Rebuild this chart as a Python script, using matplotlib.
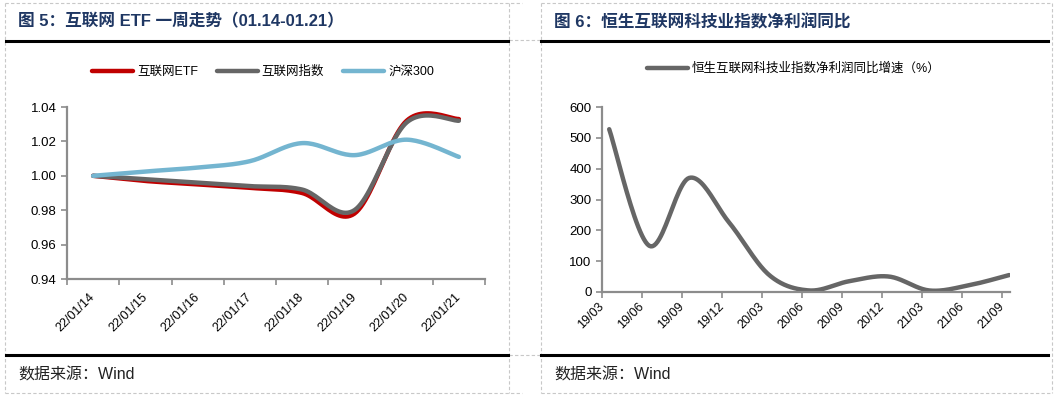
import numpy as np
import matplotlib.pyplot as plt
from matplotlib.lines import Line2D

plt.rcParams['font.family'] = ['Liberation Sans', 'Noto Sans CJK SC', 'DejaVu Sans']

# ---- data: left chart (图5) ----
dates = ['22/01/14', '22/01/15', '22/01/16', '22/01/17',
         '22/01/18', '22/01/19', '22/01/20', '22/01/21']
etf = [1.000, 0.997, 0.995, 0.993, 0.990, 0.978, 1.032, 1.033]
net_index = [1.000, 0.998, 0.996, 0.994, 0.992, 0.980, 1.031, 1.032]
hs300 = [1.000, 1.0025, 1.0048, 1.0085, 1.019, 1.012, 1.021, 1.011]

# ---- data: right chart (图6) ----
quarters = ['19/03', '19/06', '19/09', '19/12', '20/03', '20/06',
            '20/09', '20/12', '21/03', '21/06', '21/09']
profit_yoy = [528, 150, 370, 225, 55, 5, 35, 50, 5, 22, 55]

W, H = 1058, 397
RED = '#C00000'
GRAY = '#666666'
BLUE = '#74B5D0'
NAVY = '#1F3763'
AXC = '#8C8C8C'


def smooth(xs, ys, n=25):
    # excel-like smoothed line (catmull-rom through the points)
    p = np.column_stack([xs, ys]).astype(float)
    p = np.vstack([p[0], p, p[-1]])
    segs = []
    t = np.linspace(0, 1, n)[:, None]
    for i in range(1, len(p) - 2):
        p0, p1, p2, p3 = p[i - 1], p[i], p[i + 1], p[i + 2]
        c1 = p1 + (p2 - p0) / 6
        c2 = p2 - (p3 - p1) / 6
        seg = (1 - t) ** 3 * p1 + 3 * (1 - t) ** 2 * t * c1 + 3 * (1 - t) * t ** 2 * c2 + t ** 3 * p2
        segs.append(seg if i == 1 else seg[1:])
    a = np.vstack(segs)
    return a[:, 0], a[:, 1]


def fx(x):
    return x / W


def fy(y):
    return 1 - y / H


def hline(x1, x2, y, **kw):
    fig.add_artist(Line2D([fx(x1), fx(x2)], [fy(y), fy(y)], **kw))


def vline(x, y1, y2, **kw):
    fig.add_artist(Line2D([fx(x), fx(x)], [fy(y1), fy(y2)], **kw))


fig = plt.figure(figsize=(W / 100, H / 100), dpi=100)

# table frame (dashed) and black rules
dash = dict(color='#C8C8C8', lw=0.8, ls=(0, (3, 2)))
for x1, x2 in [(5, 522), (541, 1052)]:
    hline(x1, x2, 3, **dash)
    hline(x1, x2, 393, **dash)
for x in [5, 509, 541, 1052]:
    vline(x, 3, 393, **dash)
hline(509, 541, 40, **dash)
hline(509, 541, 355, **dash)
for x1, x2 in [(6, 508), (541, 1048)]:
    hline(x1, x2, 41, color='black', lw=2.2)
    hline(x1, x2, 355, color='black', lw=2.2)

# titles and sources
fig.text(fx(18), fy(21), '图 5：互联网 ETF 一周走势（01.14-01.21）', fontsize=12,
         fontweight='bold', color=NAVY, va='center',
         family=['Liberation Sans', 'Noto Sans CJK SC'])
fig.text(fx(554), fy(22), '图 6：恒生互联网科技业指数净利润同比', fontsize=12,
         fontweight='bold', color=NAVY, va='center',
         family=['Liberation Sans', 'Noto Sans CJK SC'])
for x in [18, 554]:
    fig.text(fx(x), fy(375), '数据来源：Wind', fontsize=11.5, color='#222222', va='center',
             family=['Liberation Sans', 'Noto Sans CJK SC'])


def style_axes(ax):
    for s in ['top', 'right']:
        ax.spines[s].set_visible(False)
    for s in ['left', 'bottom']:
        ax.spines[s].set_color(AXC)
        ax.spines[s].set_linewidth(1.6)
    ax.tick_params(axis='both', which='major', color=AXC, width=1.2, length=4,
                   labelsize=9.5, labelcolor='black')


# ---- left chart ----
ax1 = fig.add_axes([fx(67), fy(279), fx(485) - fx(67), fy(107) - fy(279)])
style_axes(ax1)
xi = np.arange(len(dates))
for vals, c, lab in [(etf, RED, '互联网ETF'), (net_index, GRAY, '互联网指数'),
                     (hs300, BLUE, '沪深300')]:
    sx, sy = smooth(xi, vals)
    ax1.plot(sx, sy, color=c, lw=3.2, label=lab, solid_capstyle='round')
ax1.set_xlim(-0.5, 7.5)
ax1.set_ylim(0.94, 1.04)
ax1.set_yticks(np.arange(0.94, 1.041, 0.02))
ax1.set_yticklabels(['%.2f' % v for v in np.arange(0.94, 1.041, 0.02)])
ax1.set_xticks(np.arange(-0.5, 8, 1))
ax1.set_xticklabels([])
ax1.set_xticks(xi, dates, minor=True)
ax1.tick_params(axis='x', which='minor', length=0, pad=12, labelsize=9)
for t in ax1.get_xticklabels(minor=True):
    t.set_rotation(45)
    t.set_ha('right')
    t.set_va('center')
    t.set_rotation_mode('anchor')
leg1 = ax1.legend(loc='center', bbox_to_anchor=(fx(263), fy(72)),
                  bbox_transform=fig.transFigure, ncol=3, frameon=False,
                  handlelength=3.3, handletextpad=0.3, columnspacing=1.5,
                  prop={'family': ['Liberation Sans', 'Noto Sans CJK SC'], 'size': 9})

# ---- right chart ----
ax2 = fig.add_axes([fx(602), fy(292), fx(1010) - fx(602), fy(107) - fy(292)])
style_axes(ax2)
qi = np.arange(len(quarters))
sx, sy = smooth(qi + 0.18, profit_yoy)
ax2.plot(sx, sy, color=GRAY, lw=3.2, label='恒生互联网科技业指数净利润同比增速（%）',
         solid_capstyle='round')
ax2.set_xlim(0, 10.2)
ax2.set_ylim(0, 600)
ax2.set_yticks(range(0, 601, 100))
ax2.set_xticks(qi, quarters)
ax2.tick_params(axis='x', labelsize=9, pad=5)
for t in ax2.get_xticklabels():
    t.set_rotation(45)
    t.set_ha('right')
    t.set_va('center')
    t.set_rotation_mode('anchor')
ax2.legend(loc='center', bbox_to_anchor=(fx(794), fy(69)),
           bbox_transform=fig.transFigure, frameon=False,
           handlelength=3.3, handletextpad=0.3,
           prop={'family': ['Liberation Sans', 'Noto Sans CJK SC'], 'size': 9})

fig.savefig('out.png', dpi=100)
